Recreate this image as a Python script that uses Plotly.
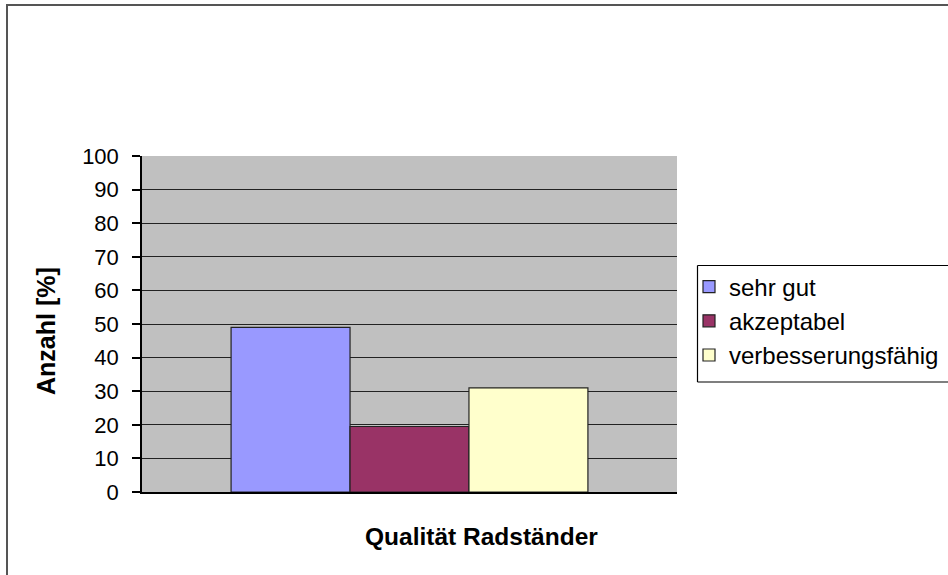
import plotly.graph_objects as go

categories = ["Qualität Radständer"]
series_names = ["sehr gut", "akzeptabel", "verbesserungsfähig"]
series_values = [49, 19.5, 31]
series_colors = ["#9999ff", "#993366", "#ffffcc"]
y_ticks = [0, 10, 20, 30, 40, 50, 60, 70, 80, 90, 100]

W, H = 948, 575
L, R, T, B = 142, 677, 156, 492
pw, ph = R - L, B - T

def px_to_paper_x(x):
    return (x - L) / pw

def px_to_paper_y(y):
    return (B - y) / ph

FONT = "Liberation Sans, Arial, sans-serif"

fig = go.Figure()
for i, (name, val, col) in enumerate(zip(series_names, series_values, series_colors)):
    fig.add_trace(go.Bar(
        x=categories, y=[val], name=name,
        marker=dict(color=col, line=dict(color="#222222", width=1.2)),
        legendgroup=f"g{i}",
    ))

def hline(x0, x1, y, color, width):
    return dict(type="line", xref="paper", yref="paper",
                x0=px_to_paper_x(x0), x1=px_to_paper_x(x1),
                y0=px_to_paper_y(y), y1=px_to_paper_y(y),
                line=dict(color=color, width=width), layer="below")

def vline(x, y0, y1, color, width):
    return dict(type="line", xref="paper", yref="paper",
                x0=px_to_paper_x(x), x1=px_to_paper_x(x),
                y0=px_to_paper_y(y0), y1=px_to_paper_y(y1),
                line=dict(color=color, width=width), layer="below")

fig.update_layout(
    width=W, height=H,
    margin=dict(l=L, r=W - R, t=T, b=H - B, pad=0, autoexpand=False),
    paper_bgcolor="white",
    plot_bgcolor="#c0c0c0",
    barmode="group",
    bargap=0.333,
    bargroupgap=0,
    showlegend=True,
    legend=dict(
        xref="container", yref="container",
        x=689 / W, y=1 - 264.5 / H,
        xanchor="left", yanchor="top",
        borderwidth=0,
        bgcolor="rgba(0,0,0,0)",
        font=dict(family=FONT, size=24, color="#000000"),
        tracegroupgap=0,
        itemwidth=30,
    ),
    font=dict(family=FONT, color="#000000"),
    xaxis=dict(
        showticklabels=False, showgrid=False, zeroline=False,
        showline=True, linecolor="#000000", linewidth=1.5,
        ticks="",
    ),
    yaxis=dict(
        range=[0, 100], tickvals=y_ticks, ticktext=[str(v) for v in y_ticks],
        ticks="outside", ticklen=8, tickwidth=1.5, tickcolor="#000000",
        ticklabelstandoff=9,
        showline=True, linecolor="#000000", linewidth=1.5,
        showgrid=True, gridcolor="#222222", gridwidth=1.4,
        zeroline=False,
        tickfont=dict(family=FONT, size=22, color="#000000"),
    ),
    annotations=[
        dict(text="<b>Anzahl [%]</b>", xref="paper", yref="paper",
             x=px_to_paper_x(46), y=px_to_paper_y(331), textangle=-90,
             showarrow=False, xanchor="center", yanchor="middle",
             font=dict(family=FONT, size=25, color="#000000")),
        dict(text="<b>Qualität Radständer</b>", xref="paper", yref="paper",
             x=px_to_paper_x(481), y=px_to_paper_y(536),
             showarrow=False, xanchor="center", yanchor="middle",
             font=dict(family=FONT, size=24.5, color="#000000")),
    ],
    shapes=[
        # outer frame (top and left edges visible)
        hline(6, 960, 5, "#555555", 2),
        vline(7, 4, 600, "#555555", 2),
        # legend box (right side cut off by the image edge)
        hline(697.5, 960, 265.5, "#000000", 1.2),
        hline(697.5, 960, 382, "#000000", 1.2),
        vline(697.5, 265.5, 382, "#000000", 1.2),
    ],
)

fig.write_html("out.html", config={"displayModeBar": False},
               post_script="document.body.style.margin='0';document.body.style.padding='0';")
